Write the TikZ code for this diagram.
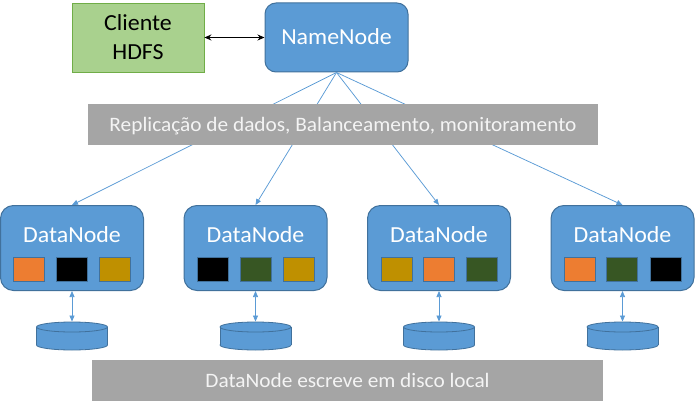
\documentclass[tikz,border=0pt]{standalone}
\usepackage{fontspec}
\setmainfont{Carlito}[FakeStretch=1.04]
\usetikzlibrary{arrows.meta}
\definecolor{blueF}{HTML}{5B9BD5}
\definecolor{blueD}{HTML}{41719C}
\definecolor{greenF}{HTML}{A9D18E}
\definecolor{greenD}{HTML}{70AD47}
\definecolor{grayF}{HTML}{A5A5A5}
\definecolor{sqOrange}{HTML}{ED7D31}
\definecolor{sqGold}{HTML}{BF9000}
\definecolor{sqGreen}{HTML}{375623}
\definecolor{txtW}{HTML}{F4F4F4}
\begin{document}
\begin{tikzpicture}[x=1pt,y=-1pt,
  bigfont/.style={font=\fontsize{23}{29}\selectfont},
  clientbox/.style={draw=greenD, fill=greenF, line width=0.8pt, minimum width=132pt, minimum height=69pt, inner sep=0pt, align=center, bigfont, text=black},
  nnbox/.style={draw=blueD, fill=blueF, rounded corners=11pt, line width=1pt, minimum width=143pt, minimum height=69pt, inner sep=0pt, text=white, bigfont, text height=14.7pt, text depth=0pt},
  dnbox/.style={draw=blueD, fill=blueF, rounded corners=13pt, line width=1pt, minimum width=143pt, minimum height=85pt, inner sep=0pt},
  dnlabel/.style={text=white, bigfont, inner sep=0pt, text height=14.7pt, text depth=0pt},
  block/.style={draw=blueD, line width=0.6pt, minimum width=31pt, minimum height=24pt, inner sep=0pt},
  diskbox/.style={draw=none, minimum width=71pt, minimum height=28.5pt, inner sep=0pt},
  diskline/.style={draw=blueD, line width=0.8pt},
  graybar/.style={fill=grayF, text=txtW, minimum width=510pt, minimum height=41pt, inner sep=0pt, font=\fontsize{20.5}{24}\selectfont, text height=13.3pt, text depth=0pt},
  link/.style={draw=blueF, line width=0.75pt, -{Triangle[length=6pt,width=5pt]}},
  disklink/.style={draw=blueF, line width=0.75pt, {Triangle[length=6pt,width=5pt]}-{Triangle[length=6pt,width=5pt]}},
  biarrow/.style={draw=black, line width=1.3pt, {Stealth[length=7pt,width=6pt]}-{Stealth[length=7pt,width=6pt]}}
]
\useasboundingbox (0,0) rectangle (695,406);

\node[clientbox] (cli) at (138,37.5) {Cliente\\HDFS};
\node[nnbox] (nn) at (336.5,37.5) {NameNode};
\draw[biarrow] (cli.east) -- (nn.west);

\foreach \i/\x in {1/72,2/255.5,3/439,4/622.5}{
  \node[dnbox] (dn\i) at (\x,248) {};
  \node[dnlabel] (dnl\i) at (\x,235) {DataNode};
  \node[diskbox] (disk\i) at (\x,336) {};
  % cylinder
  \filldraw[diskline, fill=blueF] (\x,345) ellipse [x radius=35.5pt, y radius=5pt];
  \fill[blueF] (\x-35.5,327) rectangle (\x+35.5,345);
  \draw[diskline] (\x-35.5,327) -- (\x-35.5,345);
  \draw[diskline] (\x+35.5,327) -- (\x+35.5,345);
  \filldraw[diskline, fill=blueF] (\x,327) ellipse [x radius=35.5pt, y radius=5pt];
}
\node[block, fill=sqOrange] (b11) at (28.5,269) {};
\node[block, fill=black] (b12) at (71.5,269) {};
\node[block, fill=sqGold] (b13) at (114.5,269) {};
\node[block, fill=black] (b21) at (212.5,269) {};
\node[block, fill=sqGreen] (b22) at (255.5,269) {};
\node[block, fill=sqGold] (b23) at (298.5,269) {};
\node[block, fill=sqGold] (b31) at (397,269) {};
\node[block, fill=sqOrange] (b32) at (438.5,269) {};
\node[block, fill=sqGreen] (b33) at (482,269) {};
\node[block, fill=sqOrange] (b41) at (580,269) {};
\node[block, fill=sqGreen] (b42) at (622,269) {};
\node[block, fill=black] (b43) at (665.5,269) {};

\foreach \i in {1,2,3,4}{
  \draw[link] (nn.south) -- (dn\i.north);
  \draw[disklink] (dn\i.south) -- (disk\i.north);
}

\node[graybar] (rep) at (343,124.5) {Replicação de dados, Balanceamento, monitoramento};
\node[graybar, minimum width=511pt] (esc) at (347.5,380.5) {DataNode escreve em disco local};
\end{tikzpicture}
\end{document}
